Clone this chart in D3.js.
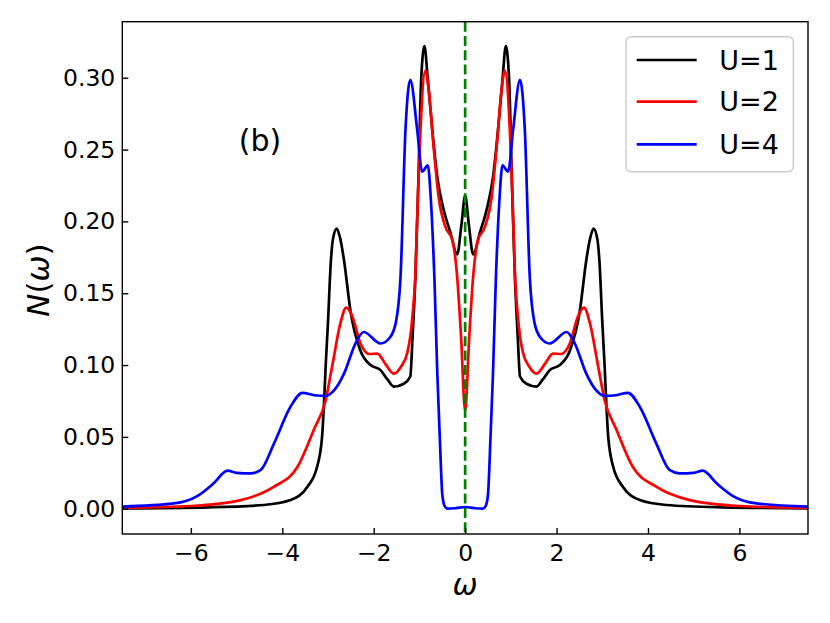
<!DOCTYPE html>
<html>
<head>
<meta charset="utf-8">
<script src="https://cdn.jsdelivr.net/npm/d3@7"></script>
<style>
  body { margin: 0; background: #fff; }
  text { font-family: "DejaVu Sans", sans-serif; fill: #000; }
</style>
</head>
<body>
<svg id="chart" width="830" height="623"></svg>
<script>
// spectral function N(omega) for three values of U

const omegaU1 = [-7.5, -5.6, -4.4, -3.82, -3.45, -3.24, -3.13, -3.09, -3.05, -3.0, -2.94, -2.89, -2.81, -2.74, -2.65, -2.51, -2.29, -2.07, -1.85, -1.7, -1.56, -1.34, -1.2, -1.15, -1.09, -1.03, -0.96, -0.89, -0.82, -0.72, -0.61, -0.47, -0.32, -0.175, -0.08,
  0,
  0.08, 0.175, 0.32, 0.47, 0.61, 0.72, 0.82, 0.89, 0.96, 1.03, 1.09, 1.15, 1.2, 1.34, 1.56, 1.7, 1.85, 2.07, 2.29, 2.51, 2.65, 2.74, 2.81, 2.89, 2.94, 3.0, 3.05, 3.09, 3.13, 3.24, 3.45, 3.82, 4.4, 5.6, 7.5];
const nU1 = [0.0003, 0.001, 0.0026, 0.006, 0.0153, 0.029, 0.050, 0.072, 0.10, 0.13, 0.171, 0.188, 0.195, 0.189, 0.173, 0.138, 0.110, 0.100, 0.0965, 0.090, 0.085, 0.087, 0.092, 0.12, 0.16, 0.22, 0.300, 0.322, 0.300, 0.264, 0.231, 0.208, 0.192, 0.177, 0.198,
  0.218,
  0.198, 0.177, 0.192, 0.208, 0.231, 0.264, 0.300, 0.322, 0.300, 0.22, 0.16, 0.12, 0.092, 0.087, 0.085, 0.090, 0.0965, 0.100, 0.110, 0.138, 0.173, 0.189, 0.195, 0.188, 0.171, 0.13, 0.10, 0.072, 0.050, 0.029, 0.0153, 0.006, 0.0026, 0.001, 0.0003];

const omegaU2 = [-7.5, -6.0, -4.91, -4.18, -3.67, -3.31, -3.05, -2.91, -2.73, -2.6, -2.47, -2.29, -2.1, -1.92, -1.75, -1.56, -1.4, -1.27, -1.2, -1.15, -1.09, -1.035, -0.977, -0.87, -0.795, -0.69, -0.58, -0.43, -0.28, -0.175, -0.09,
  0,
  0.09, 0.175, 0.28, 0.43, 0.58, 0.69, 0.795, 0.87, 0.977, 1.035, 1.09, 1.15, 1.2, 1.27, 1.4, 1.56, 1.75, 1.92, 2.1, 2.29, 2.47, 2.6, 2.73, 2.91, 3.05, 3.31, 3.67, 4.18, 4.91, 6.0, 7.5];
const nU2 = [0.0006, 0.0019, 0.006, 0.0153, 0.029, 0.055, 0.0757, 0.099, 0.129, 0.140, 0.134, 0.115, 0.1077, 0.108, 0.101, 0.094, 0.099, 0.108, 0.120, 0.135, 0.162, 0.217, 0.264, 0.305, 0.291, 0.252, 0.217, 0.196, 0.187, 0.1615, 0.12,
  0.068,
  0.12, 0.1615, 0.187, 0.196, 0.217, 0.252, 0.291, 0.305, 0.264, 0.217, 0.162, 0.135, 0.120, 0.108, 0.099, 0.094, 0.101, 0.108, 0.1077, 0.115, 0.134, 0.140, 0.129, 0.099, 0.0757, 0.055, 0.029, 0.0153, 0.006, 0.0019, 0.0006];

const omegaU4 = [-7.5, -6.37, -5.86, -5.5, -5.2, -5.0, -4.69, -4.47, -4.18, -3.82, -3.56, -3.3, -3.05, -2.85, -2.65, -2.4, -2.22, -1.85, -1.65, -1.52, -1.414, -1.305, -1.2, -1.05, -0.94, -0.817, -0.75, -0.67, -0.61, -0.555, -0.5, -0.45, -0.38, -0.2,
  0,
  0.2, 0.38, 0.45, 0.5, 0.555, 0.61, 0.67, 0.75, 0.817, 0.94, 1.05, 1.2, 1.305, 1.414, 1.52, 1.65, 1.85, 2.22, 2.4, 2.65, 2.85, 3.05, 3.3, 3.56, 3.82, 4.18, 4.47, 4.69, 5.0, 5.2, 5.5, 5.86, 6.37, 7.5];
const nU4 = [0.0015, 0.0037, 0.0088, 0.0177, 0.0265, 0.025, 0.0246, 0.027, 0.0455, 0.071, 0.0807, 0.079, 0.0785, 0.083, 0.094, 0.115, 0.123, 0.115, 0.119, 0.129, 0.161, 0.264, 0.2985, 0.264, 0.2346, 0.239, 0.215, 0.158, 0.095, 0.050, 0.010, 0.002, 0.0, 0.0004,
  0.0012,
  0.0004, 0.0, 0.002, 0.010, 0.050, 0.095, 0.158, 0.215, 0.239, 0.2346, 0.264, 0.2985, 0.264, 0.161, 0.129, 0.119, 0.115, 0.123, 0.115, 0.094, 0.083, 0.0785, 0.079, 0.0807, 0.071, 0.0455, 0.027, 0.0246, 0.025, 0.0265, 0.0177, 0.0088, 0.0037, 0.0015];

const seriesNames = ["U=1", "U=2", "U=4"];
const seriesColors = ["#000000", "#ff0000", "#0000ff"];
const xTicks = [-6, -4, -2, 0, 2, 4, 6];
const yTicks = [0.00, 0.05, 0.10, 0.15, 0.20, 0.25, 0.30];

const series = [
  d3.zip(omegaU1, nU1),
  d3.zip(omegaU2, nU2),
  d3.zip(omegaU4, nU4)
];

const margin = { left: 122.3, right: 22, top: 21.7, bottom: 89 };
const width = 830, height = 623;

const svg = d3.select("#chart");
svg.append("rect").attr("width", width).attr("height", height).attr("fill", "#fff");

const x = d3.scaleLinear().domain([-7.5, 7.5]).range([margin.left, width - margin.right]);
const y = d3.scaleLinear().domain([-0.0176, 0.339]).range([height - margin.bottom, margin.top]);

svg.append("clipPath").attr("id", "plot-clip")
  .append("rect")
  .attr("x", margin.left).attr("y", margin.top)
  .attr("width", width - margin.left - margin.right)
  .attr("height", height - margin.top - margin.bottom);

// curves
const line = d3.line()
  .x(d => x(d[0]))
  .y(d => y(d[1]))
  .curve(d3.curveMonotoneX);

const curves = svg.append("g").attr("clip-path", "url(#plot-clip)");
series.forEach((s, i) => {
  curves.append("path")
    .datum(s)
    .attr("d", line)
    .attr("fill", "none")
    .attr("stroke", seriesColors[i])
    .attr("stroke-width", 2.7)
    .attr("stroke-linejoin", "round");
});

// dashed line at omega = 0
curves.append("line")
  .attr("x1", x(0)).attr("x2", x(0))
  .attr("y1", margin.top).attr("y2", height - margin.bottom)
  .attr("stroke", "#008000")
  .attr("stroke-width", 2.7)
  .attr("stroke-dasharray", "10,4.3");

// axes, ticks pointing inward
const xAxis = svg.append("g")
  .attr("transform", `translate(0,${height - margin.bottom})`)
  .call(d3.axisBottom(x).tickValues(xTicks).tickSizeInner(-6).tickSizeOuter(0).tickPadding(10));

const yAxis = svg.append("g")
  .attr("transform", `translate(${margin.left},0)`)
  .call(d3.axisLeft(y).tickValues(yTicks).tickFormat(d3.format(".2f")).tickSizeInner(-6).tickSizeOuter(0).tickPadding(7));

[xAxis, yAxis].forEach(a => {
  a.select(".domain").remove();
  a.selectAll(".tick line").attr("stroke", "#000").attr("stroke-width", 1.4);
  a.selectAll(".tick text").attr("font-size", 23.5).attr("font-family", "DejaVu Sans").attr("fill", "#000");
});

// frame
svg.append("rect")
  .attr("x", margin.left).attr("y", margin.top)
  .attr("width", width - margin.left - margin.right)
  .attr("height", height - margin.top - margin.bottom)
  .attr("fill", "none")
  .attr("stroke", "#000")
  .attr("stroke-width", 1.4);

// axis labels
svg.append("text")
  .attr("x", x(0))
  .attr("y", 595)
  .attr("text-anchor", "middle")
  .attr("font-size", 30)
  .attr("font-style", "italic")
  .text("ω");

const yLabel = svg.append("text")
  .attr("transform", "translate(49,280) rotate(-90)")
  .attr("text-anchor", "middle")
  .attr("font-size", 31);
yLabel.append("tspan").attr("font-style", "italic").text("N");
yLabel.append("tspan").text("(");
yLabel.append("tspan").attr("font-style", "italic").text("ω");
yLabel.append("tspan").text(")");

// panel tag
svg.append("text")
  .attr("x", 260)
  .attr("y", 151)
  .attr("text-anchor", "middle")
  .attr("font-size", 30)
  .text("(b)");

// legend
const legend = svg.append("g");
legend.append("rect")
  .attr("x", 626).attr("y", 36.7)
  .attr("width", 167.3).attr("height", 135)
  .attr("rx", 5)
  .attr("fill", "#fff").attr("fill-opacity", 0.8)
  .attr("stroke", "#cccccc").attr("stroke-width", 1.4);

const rowY = [60, 101.7, 144.3];
seriesNames.forEach((name, i) => {
  legend.append("line")
    .attr("x1", 636.7).attr("x2", 696.7)
    .attr("y1", rowY[i]).attr("y2", rowY[i])
    .attr("stroke", seriesColors[i])
    .attr("stroke-width", 2.7);
  legend.append("text")
    .attr("x", 719.3)
    .attr("y", rowY[i])
    .attr("dy", "0.36em")
    .attr("font-size", 27)
    .text(name);
});
</script>
</body>
</html>
